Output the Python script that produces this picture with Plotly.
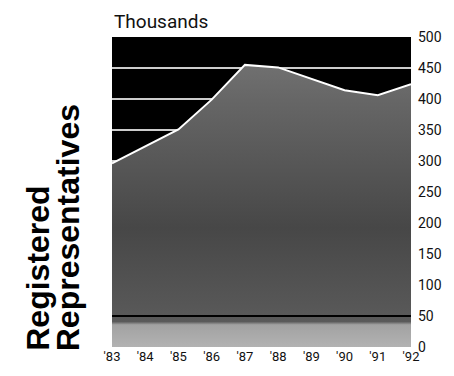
import plotly.graph_objects as go

years = [1983, 1984, 1985, 1986, 1987, 1988, 1989, 1990, 1991, 1992]
year_labels = ["'83", "'84", "'85", "'86", "'87", "'88", "'89", "'90", "'91", "'92"]
reps_thousands = [296, 324, 351, 399, 455, 451, 433, 414, 406, 424]
y_ticks = [0, 50, 100, 150, 200, 250, 300, 350, 400, 450, 500]

FONT = "Roboto, Liberation Sans, sans-serif"
TITLE_FONT = "Liberation Sans, Arial, sans-serif"

fig = go.Figure()
fig.add_trace(go.Scatter(
    x=years, y=reps_thousands, mode="lines",
    line=dict(color="#ffffff", width=2),
    fill="tozeroy",
    fillgradient=dict(type="vertical", start=0, stop=500,
                      colorscale=[[0, "#b8b8b8"], [0.095, "#a2a2a2"], [0.105, "#5a5a5a"],
                                  [0.4, "#474747"], [0.8, "#666666"], [1, "#787878"]]),
    hoverinfo="skip", showlegend=False,
))

fig.update_layout(
    width=454, height=376,
    margin=dict(l=112, r=38, t=37, b=21),
    paper_bgcolor="#ffffff", plot_bgcolor="#000000",
    font=dict(family=FONT, color="#111111", size=13),
    xaxis=dict(range=[1983, 1992], tickvals=years, ticktext=year_labels,
               showgrid=False, zeroline=False, showline=False, ticks="",
               tickfont=dict(size=13), ticklabelstandoff=0),
    yaxis=dict(range=[0, 500], tickvals=y_ticks, side="right",
               showgrid=True, gridcolor="rgba(255,255,255,0.8)", gridwidth=1.5,
               layer="above traces", zeroline=False, showline=False,
               ticks="", ticklabelstandoff=6,
               tickfont=dict(size=14)),
    shapes=[dict(type="line", xref="paper", yref="y", x0=0, x1=1, y0=50, y1=50,
                 line=dict(color="#000000", width=2), layer="above")],
    annotations=[
        dict(text="Thousands", xref="paper", yref="paper", x=0.0, y=1.0,
             xanchor="left", yanchor="bottom", yshift=2, showarrow=False,
             font=dict(family=FONT, size=19, color="#111111")),
        dict(text="<b>Registered</b>", xref="paper", yref="paper",
             x=(36 - 112) / 304, y=0.0, xanchor="center", yanchor="bottom",
             textangle=-90, showarrow=False, yshift=-6,
             font=dict(family=TITLE_FONT, size=32, color="#000000")),
        dict(text="<b>Representatives</b>", xref="paper", yref="paper",
             x=(67 - 112) / 304, y=0.0, xanchor="center", yanchor="bottom",
             textangle=-90, showarrow=False, yshift=-6,
             font=dict(family=TITLE_FONT, size=32, color="#000000")),
    ],
)

fig.write_html("out.html")
